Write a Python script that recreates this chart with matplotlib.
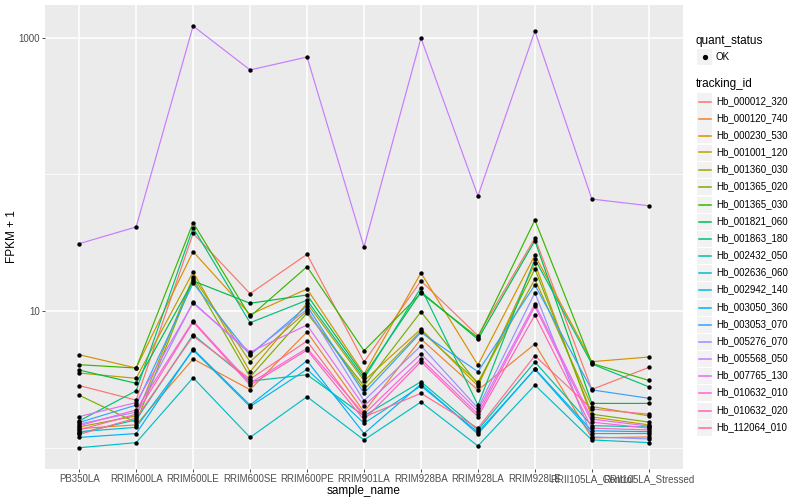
import matplotlib
matplotlib.use("Agg")
import matplotlib.pyplot as plt
from matplotlib.lines import Line2D
from matplotlib.patches import Rectangle
from matplotlib.ticker import FixedLocator, NullFormatter

plt.rcParams['font.family'] = ['Liberation Sans', 'DejaVu Sans']

samples = ["PB350LA", "RRIM600LA", "RRIM600LE", "RRIM600SE", "RRIM600PE",
           "RRIM901LA", "RRIM928BA", "RRIM928LA", "RRIM928LE",
           "RRII105LA_Control", "RRII105LA_Stressed"]

tracking_ids = ["Hb_000012_320", "Hb_000120_740", "Hb_000230_530", "Hb_001001_120",
                "Hb_001360_030", "Hb_001365_020", "Hb_001365_030", "Hb_001821_060",
                "Hb_001863_180", "Hb_002432_050", "Hb_002636_060", "Hb_002942_140",
                "Hb_003050_360", "Hb_003053_070", "Hb_005276_070", "Hb_005568_050",
                "Hb_007765_130", "Hb_010632_010", "Hb_010632_020", "Hb_112064_010"]

# ggplot default hue palette for 20 groups
colours = ["#F8766D", "#EA8331", "#D89000", "#C09B00", "#A3A500", "#7CAE00",
           "#39B600", "#00BB4E", "#00BF7D", "#00C1A3", "#00BFC4", "#00BAE0",
           "#00B0F6", "#35A2FF", "#9590FF", "#C77CFF", "#E76BF3", "#FA62DB",
           "#FF62BC", "#FF6C91"]

# FPKM + 1 per sample, one list per tracking id
hb_000012_320 = [2.85, 2.23, 37.0, 13.4, 26.0, 4.24, 16.6, 6.60, 34.2, 2.67, 3.87]
hb_000120_740 = [1.38, 1.47, 4.46, 2.66, 7.02, 1.83, 6.24, 2.64, 5.74, 1.18, 1.20]
hb_000230_530 = [4.79, 3.83, 27.2, 9.43, 14.5, 3.46, 19.0, 4.03, 25.6, 4.26, 4.61]
hb_001001_120 = [3.52, 3.22, 19.3, 3.60, 11.4, 3.09, 7.38, 2.83, 22.3, 1.68, 1.47]
hb_001360_030 = [1.42, 1.71, 17.7, 4.26, 10.0, 2.67, 7.14, 3.01, 17.1, 2.00, 1.71]
hb_001365_020 = [2.42, 1.53, 17.1, 3.29, 9.67, 2.83, 9.88, 2.92, 20.3, 1.76, 1.54]
hb_001365_030 = [4.05, 3.83, 44.3, 9.12, 21.1, 5.12, 13.5, 6.40, 46.3, 4.14, 3.11]
hb_001821_060 = [3.70, 2.96, 16.6, 11.4, 13.1, 3.35, 13.8, 6.21, 32.7, 2.11, 2.11]
hb_001863_180 = [1.57, 2.61, 40.7, 8.21, 12.0, 3.21, 14.8, 2.05, 24.0, 4.10, 2.79]
hb_002432_050 = [1.28, 1.60, 6.71, 3.07, 3.42, 1.71, 3.04, 1.35, 4.24, 1.45, 1.42]
hb_002636_060 = [1.00, 1.09, 3.25, 1.19, 2.36, 1.14, 2.16, 1.03, 2.87, 1.14, 1.09]
hb_002942_140 = [1.31, 1.41, 5.18, 2.00, 3.75, 1.51, 2.83, 1.30, 3.74, 1.27, 1.27]
hb_003050_360 = [1.19, 1.27, 5.27, 2.05, 4.33, 1.27, 2.92, 1.26, 3.78, 1.33, 1.31]
hb_003053_070 = [1.53, 2.05, 16.0, 4.77, 10.9, 2.50, 6.98, 3.60, 15.5, 2.65, 2.30]
hb_005276_070 = [1.49, 1.82, 11.6, 4.85, 10.3, 2.21, 5.57, 1.95, 13.6, 1.20, 1.16]
hb_005568_050 = [31.1, 41.2, 1216, 580, 721, 29.4, 993, 69.4, 1117, 65.9, 58.9]
hb_007765_130 = [1.69, 2.14, 11.4, 5.01, 7.90, 2.02, 4.85, 1.86, 11.3, 1.62, 1.44]
hb_010632_010 = [1.45, 1.89, 8.45, 2.97, 5.34, 1.76, 4.46, 1.76, 10.8, 1.54, 1.39]
hb_010632_020 = [1.35, 1.76, 8.31, 2.87, 5.18, 1.60, 4.26, 1.69, 9.35, 1.39, 1.35]
hb_112064_010 = [1.25, 1.65, 6.56, 3.18, 6.03, 1.68, 2.50, 1.39, 4.71, 1.92, 1.76]

series = [hb_000012_320, hb_000120_740, hb_000230_530, hb_001001_120,
          hb_001360_030, hb_001365_020, hb_001365_030, hb_001821_060,
          hb_001863_180, hb_002432_050, hb_002636_060, hb_002942_140,
          hb_003050_360, hb_003053_070, hb_005276_070, hb_005568_050,
          hb_007765_130, hb_010632_010, hb_010632_020, hb_112064_010]

W, H = 800, 500
fig = plt.figure(figsize=(W / 100, H / 100), dpi=100)
ax = fig.add_axes([45 / W, 31 / H, 638 / W, 464 / H])
ax.set_facecolor("#EBEBEB")

x = list(range(len(samples)))

# lines first, points on top (as ggplot does)
for values, col in zip(series, colours):
    ax.plot(x, values, color=col, linewidth=0.85, zorder=3)
for values in series:
    ax.scatter(x, values, s=10, color="black", zorder=4, linewidths=0)

ax.set_yscale("log")
ax.set_ylim(0.699, 1732)
ax.set_xlim(-0.6, len(samples) - 0.4)

ax.yaxis.set_major_locator(FixedLocator([10, 1000]))
ax.yaxis.set_minor_locator(FixedLocator([1, 100]))
ax.yaxis.set_minor_formatter(NullFormatter())
ax.set_yticklabels(["10", "1000"])
ax.set_xticks(x)
ax.set_xticklabels(samples)

ax.grid(which="major", color="white", linewidth=1.1, zorder=1)
ax.grid(which="minor", axis="y", color="white", linewidth=0.55, zorder=1)
ax.set_axisbelow(True)
for sp in ax.spines.values():
    sp.set_visible(False)

ax.tick_params(which="major", length=2.5, width=0.6, color="#333333",
               labelsize=7, labelcolor="#4D4D4D", pad=1)
ax.tick_params(which="minor", length=0)

ax.set_xlabel("sample_name", fontsize=8.5)
ax.set_ylabel("FPKM + 1", fontsize=8.5)
ax.xaxis.set_label_coords(0.5, -0.034)
ax.yaxis.set_label_coords(-0.042, 0.5)


# legend drawn by hand in pixel coordinates
def fx(px):
    return px / W


def fy(py):
    return 1 - py / H


fig.text(fx(696), fy(41), "quant_status", fontsize=8.5, va="center")
fig.patches.append(Rectangle((fx(697), fy(65)), 15 / W, 16 / H,
                             transform=fig.transFigure, facecolor="#F2F2F2",
                             edgecolor="none", zorder=1))
fig.lines.append(Line2D([fx(705)], [fy(57)], marker="o", markersize=2.8,
                        color="black", transform=fig.transFigure, zorder=3))
fig.text(fx(716), fy(57), "OK", fontsize=7, va="center")

fig.text(fx(696), fy(84), "tracking_id", fontsize=8.5, va="center")
for i, (tid, col) in enumerate(zip(tracking_ids, colours)):
    yc = round(100.7 + i * 17.16) + 0.5
    fig.patches.append(Rectangle((fx(697), fy(yc + 8)), 15 / W, 16 / H,
                                 transform=fig.transFigure, facecolor="#F2F2F2",
                                 edgecolor="none", zorder=1))
    fig.lines.append(Line2D([fx(699), fx(711)], [fy(yc), fy(yc)], color=col,
                            linewidth=1.1, transform=fig.transFigure, zorder=3))
    fig.text(fx(716), fy(yc), tid, fontsize=7, va="center")

fig.savefig("out.png", dpi=100)
